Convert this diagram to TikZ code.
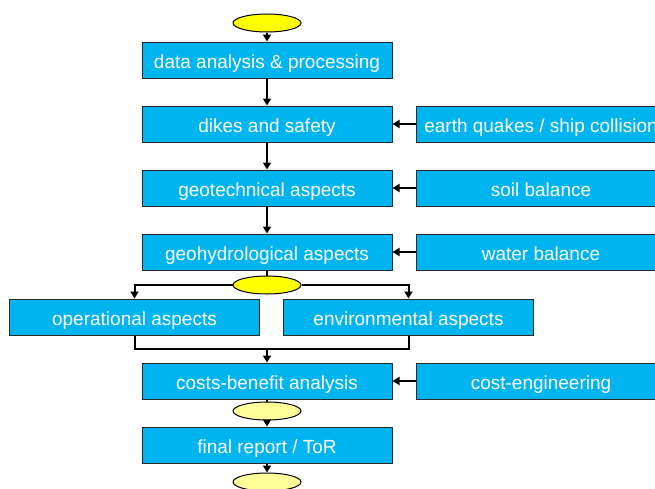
\documentclass[tikz,border=0pt]{standalone}
\usepackage{fontspec}
\setmainfont{Liberation Sans}
\usetikzlibrary{arrows.meta,shapes.geometric}
\definecolor{boxblue}{RGB}{0,180,240}
\definecolor{boxedge}{RGB}{40,40,40}
\definecolor{capyellow}{RGB}{255,255,0}
\definecolor{paleyellow}{RGB}{255,255,153}
\begin{document}
\begin{tikzpicture}[x=1pt,y=-1pt,
  stepbox/.style={draw=boxedge,line width=1pt,fill=boxblue,text=white,
    minimum width=250pt,minimum height=36pt,inner sep=0pt,
    text height=17pt,text depth=1pt,
    font=\fontsize{19}{22}\selectfont},
  oval/.style={ellipse,draw=black,line width=1pt,fill=capyellow,
    minimum width=68pt,minimum height=18pt,inner sep=0pt},
  paleoval/.style={oval,fill=paleyellow},
  link/.style={line width=2pt,black},
  flow/.style={link,-{Triangle[width=8pt,length=7pt]}}]
\useasboundingbox (0,0) rectangle (655,488);
\clip (0,0) rectangle (655,488);

% main column
\node[oval] (start) at (267,23) {};
\node[stepbox] (data) at (267,60) {data analysis \& processing};
\node[stepbox] (dikes) at (267,124) {dikes and safety};
\node[stepbox] (geotech) at (267,188) {geotechnical aspects};
\node[stepbox] (geohydro) at (267,252) {geohydrological aspects};
\node[oval] (split) at (267,285) {};
\node[stepbox] (oper) at (134.5,317) {operational aspects};
\node[stepbox] (env) at (408.5,317) {environmental aspects};
\coordinate (merge) at (267,349);
\node[stepbox] (cba) at (267,381) {costs-benefit analysis};
\node[paleoval] (mid) at (267,411) {};
\node[stepbox] (report) at (267,445) {final report / ToR};
\node[paleoval] (finish) at (267,482) {};

% side inputs
\node[stepbox] (quake) at (541,124) {earth quakes / ship collision};
\node[stepbox] (soil) at (541,188) {soil balance};
\node[stepbox] (water) at (541,252) {water balance};
\node[stepbox] (costeng) at (541,381) {cost-engineering};

% vertical flow
\draw[flow] (start) -- (data);
\draw[flow] (data) -- (dikes);
\draw[flow] (dikes) -- (geotech);
\draw[flow] (geotech) -- (geohydro);
\draw[link] (geohydro) -- (split);
\draw[flow] (split.west) -| (oper.north);
\draw[flow] (split.east) -| (env.north);
\draw[link] (oper.south) |- (merge);
\draw[link] (env.south) |- (merge);
\draw[flow] (merge) -- (cba.north);
\draw[link] (cba) -- (mid);
\draw[flow] (mid) -- (report);
\draw[flow] (report) -- (finish);

% side arrows
\draw[flow] (quake) -- (dikes);
\draw[flow] (soil) -- (geotech);
\draw[flow] (water) -- (geohydro);
\draw[flow] (costeng) -- (cba);
\end{tikzpicture}
\end{document}
